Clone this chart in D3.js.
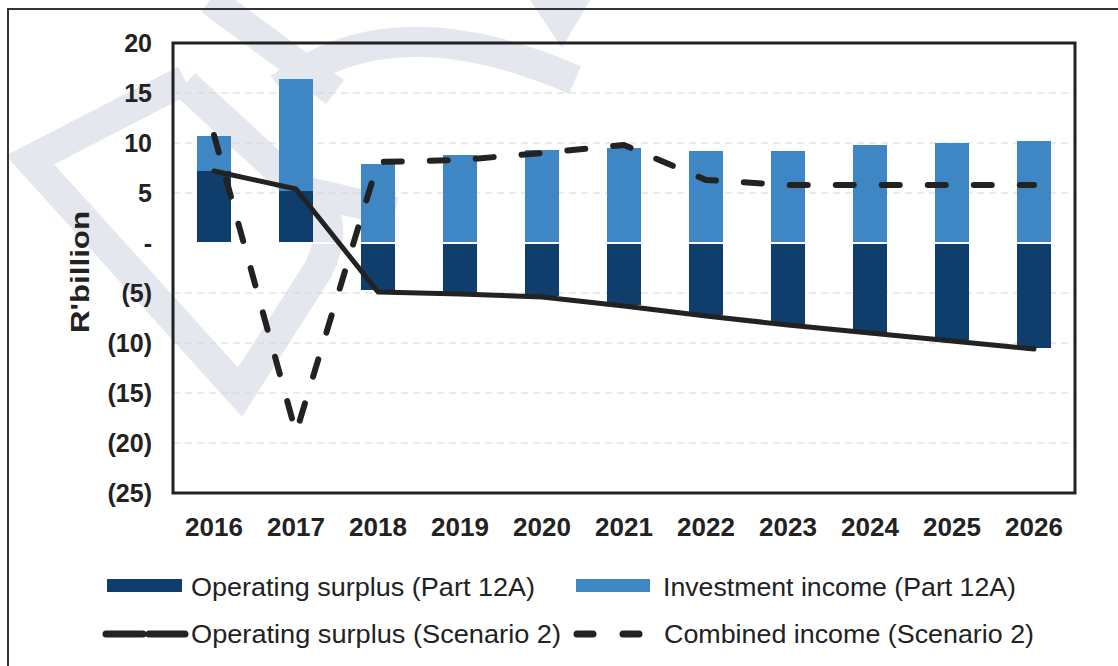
<!DOCTYPE html>
<html>
<head>
<meta charset="utf-8">
<script src="https://cdn.jsdelivr.net/npm/d3@7"></script>
<style>
  html, body { margin: 0; padding: 0; background: #fff; }
  svg { display: block; }
  text { font-family: "Liberation Sans", Arial, sans-serif; }
</style>
</head>
<body>
<svg id="chart" width="1118" height="666"></svg>
<script>
// ---- data ----
const years = ["2016","2017","2018","2019","2020","2021","2022","2023","2024","2025","2026"];
const operatingSurplusPart12A = [7.2, 5.2, -4.7, -5.0, -5.3, -6.2, -7.2, -8.2, -9.0, -9.7, -10.5];
const investmentIncomePart12A = [3.5, 11.2, 7.9, 8.8, 9.3, 9.5, 9.2, 9.2, 9.8, 10.0, 10.2];
const operatingSurplusScenario2 = [7.2, 5.4, -4.9, -5.1, -5.4, -6.3, -7.3, -8.2, -9.0, -9.8, -10.6];
const combinedIncomeScenario2 = [10.8, -19.0, 8.1, 8.3, 9.0, 9.8, 6.3, 5.8, 5.8, 5.8, 5.8];
const yTicks = [20, 15, 10, 5, 0, -5, -10, -15, -20, -25];
const legendLabels = ["Operating surplus (Part 12A)", "Investment income (Part 12A)",
                      "Operating surplus (Scenario 2)", "Combined income (Scenario 2)"];

// ---- layout ----
const svg = d3.select("#chart");
const plot = {left: 173, right: 1075, top: 43, bottom: 493};
const darkBlue = "#0f3e6c", lightBlue = "#3f86c5", lineCol = "#222";

const x = d3.scaleBand().domain(years).range([plot.left, plot.right])
  .paddingInner(0.585).paddingOuter(0.2925);
const y = d3.scaleLinear().domain([-25, 20]).range([plot.bottom, plot.top]);

// faint background watermark (decorative)
const wmCol = "#e4e7ed";
const wm = svg.append("g").attr("fill", "none").attr("stroke", wmCol)
  .attr("stroke-width", 30).attr("stroke-linejoin", "miter");
wm.append("path").attr("d", "M185,80 L30,160 L240,392 L318,270 Q336,235 322,205");
wm.append("path").attr("d", "M185,84 L300,190 L395,212");
wm.append("path").attr("d", "M210,0 L335,92");
wm.append("path").attr("d", "M280,88 Q390,0 575,80");
wm.append("path").attr("d", "M530,0 L590,0 L562,48 Z").attr("fill", wmCol).attr("stroke-width", 0);

// outer frame
svg.append("rect").attr("x", 8).attr("y", 9).attr("width", 1140).attr("height", 700)
  .attr("fill", "none").attr("stroke", "#333").attr("stroke-width", 2);

// gridlines
svg.append("g").selectAll("line").data(yTicks.filter(d => d !== 20 && d !== -25 && d !== 0))
  .join("line")
  .attr("x1", plot.left).attr("x2", plot.right)
  .attr("y1", d => y(d)).attr("y2", d => y(d))
  .attr("stroke", "#d6d6d6").attr("stroke-width", 1).attr("stroke-dasharray", "7,5");

// stacked bars
const segs = [];
years.forEach((yr, i) => {
  const op = operatingSurplusPart12A[i], inv = investmentIncomePart12A[i];
  segs.push({yr, y0: 0, y1: op, color: darkBlue});
  const base = op > 0 ? op : 0;
  segs.push({yr, y0: base, y1: base + inv, color: lightBlue});
});
svg.append("g").selectAll("rect").data(segs).join("rect")
  .attr("x", d => x(d.yr)).attr("width", x.bandwidth())
  .attr("y", d => y(Math.max(d.y0, d.y1)))
  .attr("height", d => Math.abs(y(d.y0) - y(d.y1)))
  .attr("fill", d => d.color);

// thin white separation at zero
svg.append("line").attr("x1", plot.left).attr("x2", plot.right)
  .attr("y1", y(0)).attr("y2", y(0)).attr("stroke", "#fff").attr("stroke-width", 2);

// lines
const cx = d => x(d) + x.bandwidth() / 2;
const lineGen = d3.line().x(d => cx(d.yr)).y(d => y(d.v));
svg.append("path")
  .datum(years.map((yr, i) => ({yr, v: operatingSurplusScenario2[i]})))
  .attr("d", lineGen).attr("fill", "none").attr("stroke", lineCol)
  .attr("stroke-width", 5).attr("stroke-linejoin", "round").attr("stroke-linecap", "round");
svg.append("path")
  .datum(years.map((yr, i) => ({yr, v: combinedIncomeScenario2[i]})))
  .attr("d", lineGen).attr("fill", "none").attr("stroke", lineCol)
  .attr("stroke-width", 6).attr("stroke-dasharray", "18,28").attr("stroke-linecap", "round")
  .attr("stroke-linejoin", "round");

// plot frame
svg.append("rect").attr("x", plot.left).attr("y", plot.top)
  .attr("width", plot.right - plot.left).attr("height", plot.bottom - plot.top)
  .attr("fill", "none").attr("stroke", "#222").attr("stroke-width", 3);

// axes
const fmt = d => d === 0 ? "-" : (d < 0 ? "(" + Math.abs(d) + ")" : String(d));
const yAxis = svg.append("g").attr("transform", `translate(${plot.left},0)`)
  .call(d3.axisLeft(y).tickValues(yTicks).tickFormat(fmt).tickSize(0).tickPadding(21));
yAxis.select(".domain").remove();
yAxis.selectAll("text").attr("font-size", 25).attr("font-weight", "bold").attr("fill", "#222")
  .attr("font-family", "'Liberation Sans', Arial, sans-serif");

const xAxis = svg.append("g").attr("transform", `translate(0,${plot.bottom})`)
  .call(d3.axisBottom(x).tickSize(0).tickPadding(25));
xAxis.select(".domain").remove();
xAxis.selectAll("text").attr("font-size", 26).attr("font-weight", "bold").attr("fill", "#222")
  .attr("font-family", "'Liberation Sans', Arial, sans-serif");

// y title
svg.append("text").attr("transform", "translate(89,272) rotate(-90)")
  .attr("text-anchor", "middle").attr("font-size", 25).attr("font-weight", "bold")
  .attr("fill", "#222").attr("textLength", 122).attr("lengthAdjust", "spacingAndGlyphs")
  .text("R'billion");

// legend
const lg = svg.append("g");
lg.append("rect").attr("x", 107).attr("y", 579).attr("width", 75).attr("height", 13).attr("fill", darkBlue);
lg.append("rect").attr("x", 576).attr("y", 579).attr("width", 74).attr("height", 13).attr("fill", lightBlue);
lg.append("line").attr("x1", 106).attr("x2", 185).attr("y1", 634).attr("y2", 634)
  .attr("stroke", lineCol).attr("stroke-width", 7).attr("stroke-linecap", "round")
  .attr("stroke-dasharray", "37,6");
lg.append("line").attr("x1", 577).attr("x2", 643).attr("y1", 634).attr("y2", 634)
  .attr("stroke", lineCol).attr("stroke-width", 7).attr("stroke-linecap", "round")
  .attr("stroke-dasharray", "16,30");
const legendText = [
  {t: legendLabels[0], x: 191, y: 596, w: 344},
  {t: legendLabels[1], x: 663, y: 596, w: 353},
  {t: legendLabels[2], x: 191, y: 643, w: 370},
  {t: legendLabels[3], x: 664, y: 643, w: 370}
];
lg.selectAll("text").data(legendText).join("text")
  .attr("x", d => d.x).attr("y", d => d.y).attr("font-size", 25).attr("fill", "#222")
  .attr("textLength", d => d.w).attr("lengthAdjust", "spacingAndGlyphs")
  .text(d => d.t);
</script>
</body>
</html>
